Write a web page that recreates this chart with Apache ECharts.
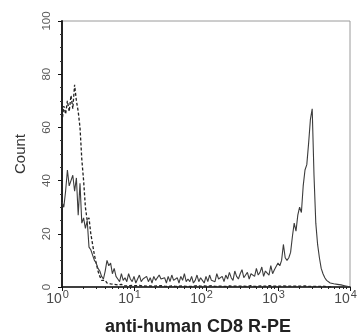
<!DOCTYPE html>
<html><head><meta charset="utf-8">
<script src="https://cdn.jsdelivr.net/npm/echarts@6/dist/echarts.min.js"></script>
<style>html,body{margin:0;padding:0;background:#fff}#c{width:359px;height:336px}</style>
</head><body><div id="c"></div>
<script>
// Histogram channels: 40 bins per decade from 10^0 to 10^4
const binsPerDecade = 40;
const xMin = 1, xMax = 10000;
const yTicks = [0, 20, 40, 60, 80, 100];
const xMajorTicks = [1, 10, 100, 1000, 10000];
const xMinorTicks = [2,3,4,5,6,7,8,9,20,30,40,50,60,70,80,90,200,300,400,500,600,700,800,900,2000,3000,4000,5000,6000,7000,8000,9000];

// anti-human CD8 R-PE stained sample (solid)
const cd8Counts = [
  32,30,36,44,38,40,42,36,41,27,39,24,26,22,25,15,14,12,10,9,7,6,4,3,6,10,8,9,5,7,4,
  3,2,5,2.5,3.5,2,5,3,2,4,1.5,3,4.5,2,3,2.5,4,2,3.5,1.5,4,2.5,2,4.5,3,
  2.5,3.5,1.5,4,2,4.5,2.5,2,3.5,1.5,4,2.5,5,2,3,2,4,1.5,2.5,4.5,2,3.5,2.5,1.5,4,2,4.5,2.5,3,2,5,3,2.5,4,2,
  4.5,3,5.5,3.5,2.5,6,4,3,5,6.5,3.5,4.5,5.5,3,5,
  5.5,4,7,4.5,5.5,7.5,4,6,6.5,4.5,8,5,6.5,
  7,9,8,10,16,11,10,
  11,13,19,24,21,27,30,28,38,44,46,54,63,67,42,24,16,11,7,5,3.5,2.5,2,1.5,1.5,1.2,1,1,0.8,0.8,0.5,0.5,0.3,0.2,0
];
// isotype control (dashed)
const isotypeCounts = [
  62,68,65,70,66,72,67,76,70,66,60,48,40,30,25,26,20,16,12,9,6,4,2.5,2,2.5,1.5,1,1.2,0.8,1,0.5,
  0.8,0.5,1,0.6,0.4,0.8,0.5,0.3,0.6,0.4,0.5,0.3,0.6,0.2,0.4,0.5,0.3,0.2,0.4,0.3,
  0.3,0.2,0.4,0.3,0.5,0.2,0.3,0.4,0.2,0.3,
  0.4,0.3,0.2,0.5,0.3,0.2,0.4,0.3,0.2,0.3,
  0.2,0.4,0.3,0.3,0.5,0.2,0.3,0.2,0.4,0.3,
  0.3,0.2,0.5,0.3,0.2,0.4,0.3,0.2,0.3,0.4,
  0.2,0.3,0.4,0.2,0.3,0.5,0.3,0.2,0.3,0.4,
  0.3,0.4,0.2,0.3,0.5,0.3,0.2,0.4,0.3,0.2,
  0.4,0.3,0.3,0.2,0.5,0.4,0.3,0.2,0.3,0.4,
  0.3,0.2,0.4,0.5,0.3,0.2,0.3,0.4,0.3,0.2,
  0.3,0.4,0.3,0.2,0.4,0.3,0.2,0.3,0.2,0.3,
  0.2,0.3,0.2,0.2,0.3,0.2,0.1,0.2,0.1,0.0
];

const channels = cd8Counts.map((_, i) => Math.pow(10, i / binsPerDecade));
const solidData = cd8Counts.map((v, i) => [channels[i], v]);
const dashedData = isotypeCounts.map((v, i) => [channels[i], v]);

const chart = echarts.init(document.getElementById('c'), null, {renderer: 'canvas'});
chart.setOption({
  animation: false,
  backgroundColor: '#fff',
  grid: {left: 62, top: 21, right: 9, bottom: 49, outerBoundsMode: 'none', containLabel: false,
         show: true, borderColor: '#9a9a9a', borderWidth: 1},
  xAxis: [{
    type: 'log', logBase: 10, min: xMin, max: xMax,
    name: 'anti-human CD8 R-PE', nameLocation: 'middle', nameGap: 31,
    nameTextStyle: {fontFamily: 'Liberation Sans', fontWeight: 'bold', fontSize: 18, color: '#222', padding: [0, 16, 0, 0]},
    axisLine: {lineStyle: {color: '#111', width: 1.5}},
    axisTick: {show: true, inside: false, length: 4, lineStyle: {color: '#111'}},
    splitLine: {show: false},
    axisLabel: {
      margin: 2, padding: [0, 9, 0, 0],
      formatter: v => '{b|10}{s|' + Math.round(Math.log10(v)) + '}',
      rich: {
        b: {fontFamily: 'Liberation Sans', fontSize: 14, color: '#4a4a4a', verticalAlign: 'bottom', lineHeight: 17},
        s: {fontFamily: 'Liberation Sans', fontSize: 11, color: '#4a4a4a', verticalAlign: 'top', padding: [0, 0, 6, 1], lineHeight: 11}
      }
    }
  }, {
    type: 'log', logBase: 10, min: xMin, max: xMax, position: 'bottom',
    axisLine: {show: false}, axisLabel: {show: false}, splitLine: {show: false},
    axisTick: {show: true, length: 2, customValues: xMinorTicks, lineStyle: {color: '#222'}}
  }],
  yAxis: {
    type: 'value', min: 0, max: 100, interval: 20,
    name: 'Count', nameLocation: 'middle', nameGap: 34,
    nameTextStyle: {fontFamily: 'Liberation Sans', fontSize: 15, color: '#333'},
    axisLine: {show: true, lineStyle: {color: '#111', width: 1.8}},
    axisTick: {show: true, length: 4, lineStyle: {color: '#111'}},
    minorTick: {show: true, splitNumber: 4, length: 2, lineStyle: {color: '#333'}},
    splitLine: {show: false},
    axisLabel: {rotate: 90, margin: 9, fontFamily: 'Liberation Sans', fontSize: 11.5, color: '#5a5a5a'}
  },
  series: [{
    type: 'line', data: dashedData, xAxisIndex: 0, showSymbol: false,
    lineStyle: {color: '#222', width: 1.3, type: [3, 2]}
  }, {
    type: 'line', data: solidData, xAxisIndex: 0, showSymbol: false,
    lineStyle: {color: '#3c3c3c', width: 1.1}
  }]
});
</script></body></html>
